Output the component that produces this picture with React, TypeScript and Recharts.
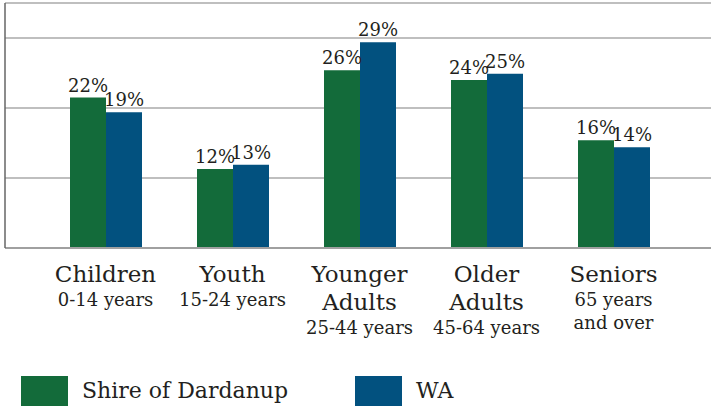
import React from 'react';
import { BarChart, Bar, XAxis, YAxis, CartesianGrid, LabelList } from 'recharts';

const categories = ['Children', 'Youth', 'Younger Adults', 'Older Adults', 'Seniors'];
const titleLines = [['Children'], ['Youth'], ['Younger', 'Adults'], ['Older', 'Adults'], ['Seniors']];
const subLines = [['0-14 years'], ['15-24 years'], ['25-44 years'], ['45-64 years'], ['65 years', 'and over']];
const shireValues = [21.5, 11.3, 25.4, 24.0, 15.4];
const waValues = [19.4, 11.9, 29.4, 24.9, 14.4];
const shireLabels = ['22%', '12%', '26%', '24%', '16%'];
const waLabels = ['19%', '13%', '29%', '25%', '14%'];
const yTicks = [0, 10, 20, 30];
const seriesNames = ['Shire of Dardanup', 'WA'];
const seriesColors = ['#136b3a', '#02517f'];

const data = categories.map((c, i) => ({
  category: c,
  shire: shireValues[i],
  wa: waValues[i],
  shireLabel: shireLabels[i],
  waLabel: waLabels[i],
}));

const FONT = '"DejaVu Serif", serif';
const TEXT = '#231f20';

const CategoryTick = (props: any) => {
  const { x, y, payload } = props;
  const i = categories.indexOf(payload.value);
  const mains = titleLines[i] || [];
  const subs = subLines[i] || [];
  const base = y + 34;
  const items: any[] = [];
  mains.forEach((t, k) => {
    items.push(
      <text key={'m' + k} x={x} y={base + k * 28} textAnchor="middle" fontSize={23} fill={TEXT} fontFamily={FONT}>
        {t}
      </text>
    );
  });
  const subStart = base + (mains.length - 1) * 28 + 23.5;
  subs.forEach((t, k) => {
    items.push(
      <text key={'s' + k} x={x} y={subStart + k * 23} textAnchor="middle" fontSize={18} fill={TEXT} fontFamily={FONT}>
        {t}
      </text>
    );
  });
  return <g>{items}</g>;
};

const EmptyTick = () => <g />;

export default function App() {
  return (
    <div style={{ position: 'absolute', left: 0, top: 0, width: 711, height: 408, background: '#fff' }}>
      <BarChart
        width={711}
        height={408}
        data={data}
        margin={{ top: 3, right: 0, left: 4, bottom: 0 }}
        barGap={0}
        barSize={36}
      >
        <CartesianGrid horizontal={true} vertical={false} stroke="#aaaaaa" strokeWidth={1.6} />
        <XAxis
          dataKey="category"
          interval={0}
          tickLine={false}
          tickSize={0}
          tickMargin={0}
          height={160}
          padding={{ left: 37, right: 34 }}
          axisLine={{ stroke: '#a0a0a0', strokeWidth: 2 }}
          tick={<CategoryTick />}
        />
        <YAxis
          width={1}
          domain={[0, 35]}
          ticks={yTicks}
          tick={<EmptyTick />}
          tickLine={false}
          axisLine={{ stroke: '#666666', strokeWidth: 1.5 }}
        />
        <Bar dataKey="shire" fill={seriesColors[0]} isAnimationActive={false}>
          <LabelList dataKey="shireLabel" position="top" offset={6} fill={TEXT} fontSize={18} fontFamily={FONT} />
        </Bar>
        <Bar dataKey="wa" fill={seriesColors[1]} isAnimationActive={false}>
          <LabelList dataKey="waLabel" position="top" offset={6} fill={TEXT} fontSize={18} fontFamily={FONT} />
        </Bar>
      </BarChart>
      <svg width={711} height={50} style={{ position: 'absolute', left: 0, top: 360 }}>
        {seriesNames.map((n, i) => {
          const x0 = i === 0 ? 21 : 355;
          return (
            <g key={n}>
              <rect x={x0} y={16} width={47} height={30} fill={seriesColors[i]} />
              <text x={x0 + 61} y={38} fontSize={22} fill={TEXT} fontFamily={FONT}>
                {n}
              </text>
            </g>
          );
        })}
      </svg>
    </div>
  );
}
